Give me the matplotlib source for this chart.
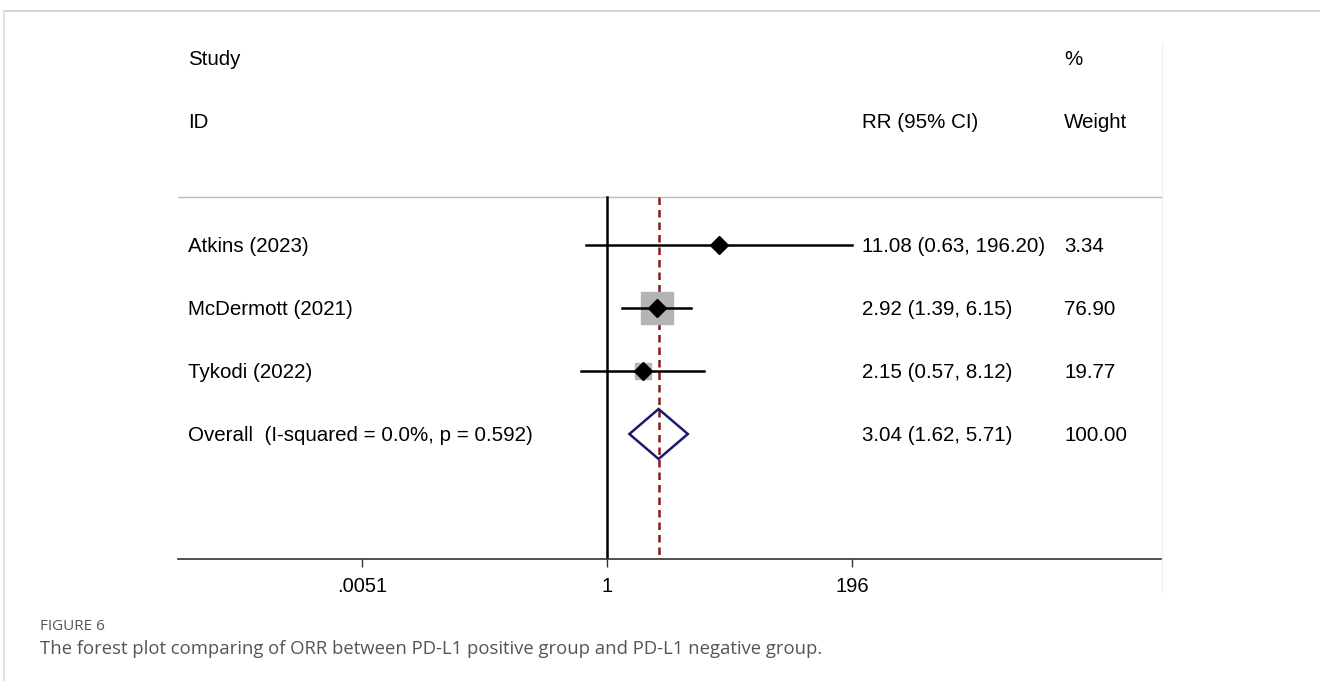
import numpy as np
import matplotlib
matplotlib.use("Agg")
import matplotlib.pyplot as plt
from matplotlib.transforms import blended_transform_factory
from matplotlib.lines import Line2D

# study level estimates (risk ratio, 95% CI, weight %)
studies = ["Atkins (2023)", "McDermott (2021)", "Tykodi (2022)"]
rr = [11.08, 2.92, 2.15]
lo = [0.63, 1.39, 0.57]
hi = [196.20, 6.15, 8.12]
weight = [3.34, 76.90, 19.77]

overall_label = "Overall  (I-squared = 0.0%, p = 0.592)"
overall_rr = 3.04
overall_lo = 1.62
overall_hi = 5.71

xticks = [0.0051, 1, 196]
xticklabels = [".0051", "1", "196"]

plt.rcParams["font.family"] = ["Liberation Sans", "DejaVu Sans"]

W, H = 1320, 681
fig = plt.figure(figsize=(W / 100, H / 100), dpi=100)

# plot area in pixels: left 178, right 1162, top 43, bottom 559
ax = fig.add_axes([178 / W, 1 - 559 / H, (1162 - 178) / W, (559 - 43) / H])
ax.set_xscale("log")
ppl = 46.4  # pixels per unit of ln(RR)
ax.set_xlim(np.exp((178 - 607) / ppl), np.exp((1162 - 607) / ppl))
ax.set_ylim((559 - 245) / 63.0, (43 - 245) / 63.0)

for s in ["top", "left", "right"]:
    ax.spines[s].set_visible(False)
ax.spines["bottom"].set_color("#333333")
ax.spines["bottom"].set_linewidth(1.2)
ax.set_yticks([])
ax.set_xticks(xticks)
ax.set_xticklabels(xticklabels, fontsize=14.5)
ax.xaxis.set_minor_locator(matplotlib.ticker.NullLocator())
ax.tick_params(axis="x", length=6, width=1, color="#333333", pad=7)

n = len(studies)
sep_y = (197 - 245) / 63.0
bottom_y = (559 - 245) / 63.0

# header separator
ax.axhline(sep_y, color="#bbbbbb", lw=1)
# null line and pooled estimate line
ax.plot([1, 1], [sep_y, bottom_y], color="black", lw=1.8)
ax.plot([overall_rr, overall_rr], [sep_y, bottom_y], color="#8b1a1a", lw=1.8,
        ls=(0, (3, 2)))

max_side = 32.0  # pixel side of the largest weight box
for i in range(n):
    ax.plot([lo[i], hi[i]], [i, i], color="black", lw=1.8, zorder=3)
    side = max_side * np.sqrt(weight[i] / max(weight))
    ax.plot(rr[i], i, marker="s", ms=side * 0.72, color="#b4b4b4", mec="#b4b4b4",
            zorder=2)
    ax.plot(rr[i], i, marker="D", ms=9, color="black", zorder=4)

# pooled diamond
yo = n
dh = 25 / 63.0
ax.fill([overall_lo, overall_rr, overall_hi, overall_rr, overall_lo],
        [yo, yo - dh, yo, yo + dh, yo], facecolor="none", edgecolor="#1a1a6e",
        lw=1.8, zorder=4)

# text columns
tr = blended_transform_factory(fig.transFigure, ax.transData)
fs = 14.8
dy = 0.03
x_id, x_ci, x_w = 188 / W, 862 / W, 1064 / W
ax.text(x_id, -2.98 + dy, "Study", transform=tr, fontsize=fs, va="center")
ax.text(x_id, -1.98 + dy, "ID", transform=tr, fontsize=fs, va="center")
ax.text(x_ci, -1.98 + dy, "RR (95% CI)", transform=tr, fontsize=fs, va="center")
ax.text(x_w, -2.98 + dy, "%", transform=tr, fontsize=fs, va="center")
ax.text(x_w, -1.98 + dy, "Weight", transform=tr, fontsize=fs, va="center")

for i in range(n):
    ax.text(x_id, i + dy, studies[i], transform=tr, fontsize=fs, va="center")
    ax.text(x_ci, i + dy, "%.2f (%.2f, %.2f)" % (rr[i], lo[i], hi[i]),
            transform=tr, fontsize=fs, va="center")
    ax.text(x_w, i + dy, "%.2f" % weight[i], transform=tr, fontsize=fs,
            va="center")
ax.text(x_id, yo + dy, overall_label, transform=tr, fontsize=fs, va="center")
ax.text(x_ci, yo + dy, "%.2f (%.2f, %.2f)" % (overall_rr, overall_lo, overall_hi),
        transform=tr, fontsize=fs, va="center")
ax.text(x_w, yo + dy, "%.2f" % 100, transform=tr, fontsize=fs, va="center")

# panel frame
fig.add_artist(Line2D([4 / W, 1], [1 - 11 / H, 1 - 11 / H], color="#cccccc", lw=1.2))
fig.add_artist(Line2D([4 / W, 4 / W], [0, 1 - 11 / H], color="#dddddd", lw=1.2))
fig.add_artist(Line2D([1162 / W, 1162 / W], [1 - 592 / H, 1 - 43 / H],
                      color="#eef2f4", lw=1))

# caption
fig.text(40 / W, 1 - 626 / H, "FIGURE 6", fontsize=11, color="#555555",
         family=["Open Sans", "DejaVu Sans"], va="center")
fig.text(40 / W, 1 - 649 / H,
         "The forest plot comparing of ORR between PD-L1 positive group and PD-L1 negative group.",
         fontsize=13.3, color="#555555", family=["Open Sans", "DejaVu Sans"],
         va="center")

fig.savefig("out.png", dpi=100)
